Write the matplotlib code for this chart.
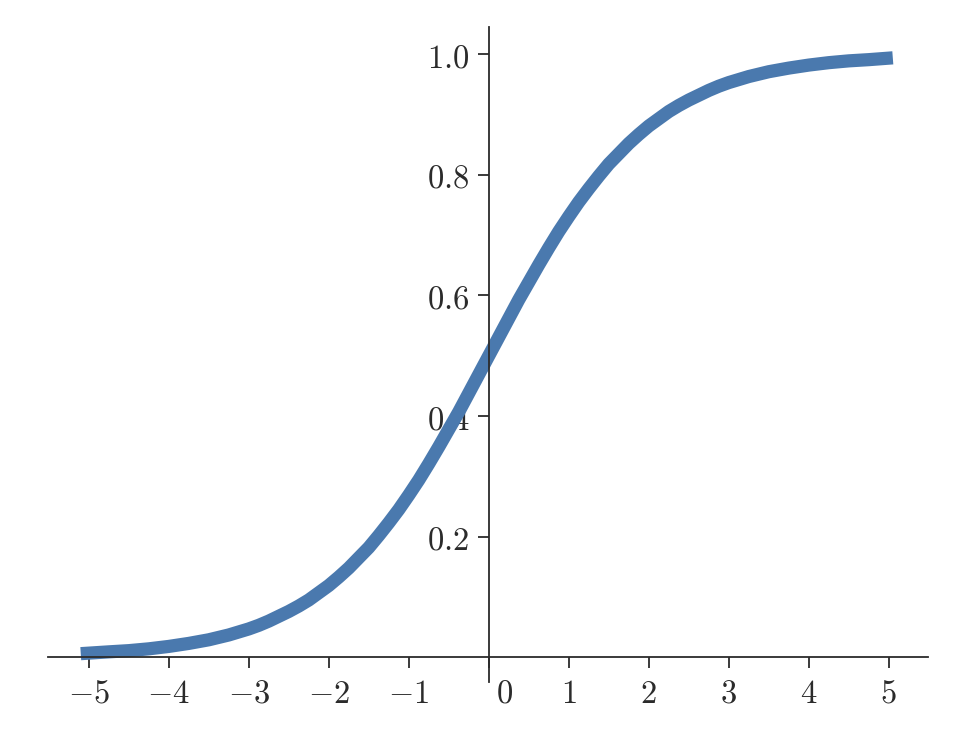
import matplotlib
matplotlib.use("Agg")
import matplotlib.pyplot as plt
import matplotlib.transforms as mtransforms

# values
X_VALUES = [-5.1, -4.75, -4.5, -4.25, -4.0, -3.75, -3.5, -3.25, -3.125, -3.0,
            -2.875, -2.75, -2.625, -2.5, -2.375, -2.25, -2.125, -2.0, -1.875,
            -1.75, -1.625, -1.5, -1.375, -1.25, -1.125, -1.0, -0.875, -0.75,
            -0.625, -0.5, -0.375, -0.25, -0.125, 0.0, 0.125, 0.25, 0.375, 0.5,
            0.625, 0.75, 0.875, 1.0, 1.125, 1.25, 1.375, 1.5, 1.625, 1.75,
            1.875, 2.0, 2.125, 2.25, 2.375, 2.5, 2.625, 2.75, 2.875, 3.0,
            3.125, 3.25, 3.5, 3.75, 4.0, 4.25, 4.5, 4.75, 5.05]
Y_VALUES = [0.006, 0.009, 0.011, 0.014, 0.018, 0.023, 0.029, 0.037, 0.042, 0.047,
            0.053, 0.060, 0.068, 0.076, 0.085, 0.095, 0.107, 0.119, 0.133,
            0.148, 0.165, 0.182, 0.202, 0.223, 0.245, 0.269, 0.294, 0.321,
            0.349, 0.378, 0.407, 0.438, 0.469, 0.500, 0.531, 0.562, 0.593, 0.622,
            0.651, 0.679, 0.706, 0.731, 0.755, 0.777, 0.798, 0.818, 0.835, 0.852,
            0.867, 0.881, 0.893, 0.905, 0.915, 0.924, 0.932, 0.940, 0.947, 0.953,
            0.958, 0.963, 0.971, 0.977, 0.982, 0.986, 0.989, 0.991, 0.994]
X_TICKS = [-5, -4, -3, -2, -1, 0, 1, 2, 3, 4, 5]
Y_TICKS = [0.2, 0.4, 0.6, 0.8, 1.0]

INK = "#2b2b2b"
LINE = "#4a79ae"

plt.rcParams["mathtext.fontset"] = "cm"

fig = plt.figure(figsize=(9.69, 7.32), dpi=100)
ax = fig.add_axes([0.0495, 0.0683, 0.9082, 0.8947])

ax.plot(X_VALUES, Y_VALUES, color=LINE, linewidth=9.5, solid_capstyle="butt",
        solid_joinstyle="round", zorder=2)

ax.set_xlim(-5.51, 5.49)
ax.set_ylim(-0.041, 1.045)

ax.spines["left"].set_position(("data", 0))
ax.spines["bottom"].set_position(("data", 0))
ax.spines["top"].set_visible(False)
ax.spines["right"].set_visible(False)
for s in ("left", "bottom"):
    ax.spines[s].set_color(INK)
    ax.spines[s].set_linewidth(1.3)
    ax.spines[s].set_zorder(3)

ax.set_xticks(X_TICKS)
ax.set_xticklabels([rf"${t}$" for t in X_TICKS])
ax.set_yticks(Y_TICKS)
ax.set_yticklabels([rf"${t:.1f}$" for t in Y_TICKS])
ax.tick_params(length=8, width=1.3, color=INK, labelcolor=INK,
               labelsize=23.5, pad=6)

# nudge the "0" label off the vertical axis
for lab in ax.get_xticklabels():
    if lab.get_text() == "$0$":
        lab.set_transform(lab.get_transform() + mtransforms.ScaledTranslation(
            16 / 100, 0, fig.dpi_scale_trans))

fig.savefig("out.png", dpi=100, facecolor="white")
